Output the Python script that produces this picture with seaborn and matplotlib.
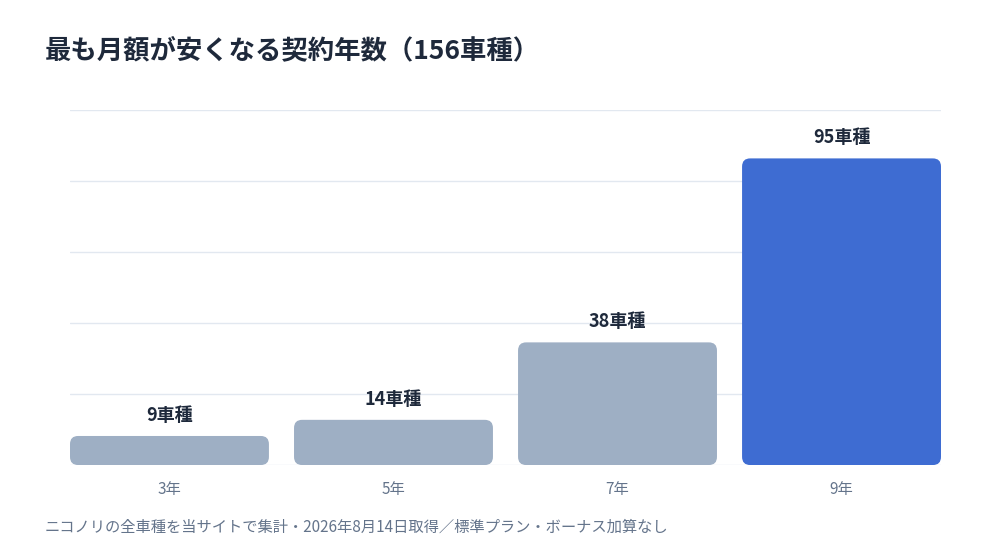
import matplotlib
matplotlib.use('Agg')
import pandas as pd
import seaborn as sns
from matplotlib import pyplot as plt
from matplotlib.patches import FancyBboxPatch

years = ['3年', '5年', '7年', '9年']
counts = [9, 14, 38, 95]
colors = ['#97afcb', '#97afcb', '#97afcb', '#2563eb']

sns.set_style('white')
plt.rcParams['font.family'] = ['Noto Sans CJK JP', 'DejaVu Sans']

df = pd.DataFrame({'year': years, 'count': counts})

fig = plt.figure(figsize=(10, 5.6), dpi=100)
ax = fig.add_axes([0.07, 0.1696, 0.871, 0.634])
sns.barplot(data=df, x='year', y='count', hue='year', palette=colors,
            width=0.888, legend=False, ax=ax)

ax.set_ylim(0, 110)
ax.set_xlim(-0.444, 3.444)
ax.set_yticks([0, 22, 44, 66, 88, 110])
ax.yaxis.grid(True, color='#e2e8f0', lw=1)
ax.set_axisbelow(True)
for s in ax.spines.values():
    s.set_visible(False)
ax.tick_params(axis='y', left=False, labelleft=False)
ax.tick_params(axis='x', bottom=False, labelsize=11, labelcolor='#64748b', pad=8)
ax.set_xlabel('')
ax.set_ylabel('')

# rounded bars
for p in list(ax.patches):
    x, y, w, h = p.get_x(), p.get_y(), p.get_width(), p.get_height()
    fc = p.get_facecolor()
    p.remove()
    ax.add_patch(FancyBboxPatch((x, y), w, h,
                                boxstyle='round,pad=0,rounding_size=0.036',
                                mutation_aspect=70, fc=fc, ec='none', zorder=2))

for i, v in enumerate(counts):
    ax.text(i, v + 3.5, f'{v}車種', ha='center', va='bottom',
            fontsize=13, fontweight='bold', color='#1e293b')

fig.text(0.045, 0.91, '最も月額が安くなる契約年数（156車種）', fontsize=19,
         fontweight='bold', color='#1e293b', va='center')
fig.text(0.045, 0.058, 'ニコノリの全車種を当サイトで集計・2026年8月14日取得／標準プラン・ボーナス加算なし',
         fontsize=11, color='#64748b', va='center')

fig.savefig('out.png', dpi=100)
